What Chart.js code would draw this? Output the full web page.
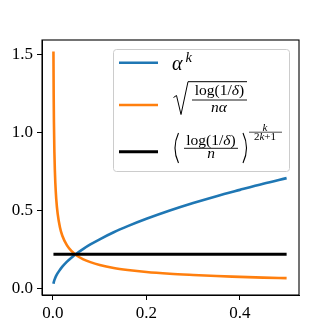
<!DOCTYPE html>
<html>
<head>
<meta charset="utf-8">
<script src="https://cdn.jsdelivr.net/npm/chart.js@4"></script>
<style>
    body { margin: 0; background: #fff; }
    canvas { display: block; }
</style>
</head>
<body>
<canvas id="chart" width="332" height="332"></canvas>
<script>
'use strict';

// values
var alphaValues = [0.001, 0.0015, 0.002, 0.003, 0.004, 0.005, 0.007, 0.01, 0.015, 0.02, 0.03, 0.04, 0.05,
    0.065, 0.08, 0.1, 0.13, 0.16, 0.2, 0.25, 0.3, 0.35, 0.4, 0.45, 0.5];
var alphaPowK = [0.032, 0.039, 0.045, 0.055, 0.063, 0.071, 0.084, 0.100, 0.122, 0.141, 0.173, 0.200, 0.224,
    0.255, 0.283, 0.316, 0.361, 0.400, 0.447, 0.500, 0.548, 0.592, 0.632, 0.671, 0.707];
var sqrtTerm = [1.517, 1.238, 1.072, 0.876, 0.758, 0.678, 0.573, 0.480, 0.392, 0.339, 0.277, 0.240, 0.214,
    0.188, 0.170, 0.152, 0.133, 0.120, 0.107, 0.096, 0.088, 0.081, 0.076, 0.071, 0.068];
var rateX = [0.001, 0.5];
var rateTerm = [0.22, 0.22];

var xTicks = [0.0, 0.2, 0.4];
var yTicks = [0.0, 0.5, 1.0, 1.5];

var SERIF = '"Liberation Serif", "DejaVu Serif", serif';

var points = function (xs, ys) {
    return xs.map(function (x, i) { return { x: x, y: ys[i] }; });
};

var font = function (size, italic) {
    return (italic ? 'italic ' : '') + size + 'px ' + SERIF;
};

// draws runs of [text, italic] centred on cx
var drawRuns = function (ctx, runs, cx, y, size) {
    var total = 0;
    runs.forEach(function (r) {
        ctx.font = font(size, r[1]);
        total += ctx.measureText(r[0]).width;
    });
    var x = cx - total / 2;
    runs.forEach(function (r) {
        ctx.font = font(size, r[1]);
        ctx.fillText(r[0], x, y);
        x += ctx.measureText(r[0]).width;
    });
};

var hline = function (ctx, x1, x2, y, w) {
    ctx.beginPath();
    ctx.moveTo(x1, y);
    ctx.lineTo(x2, y);
    ctx.lineWidth = w;
    ctx.stroke();
};

var frame = {
    id: 'frame',
    afterDraw: function (chart) {
        var a = chart.chartArea;
        var ctx = chart.ctx;
        ctx.save();
        ctx.strokeStyle = '#000';
        ctx.lineWidth = 1.1;
        ctx.strokeRect(a.left, a.top, a.right - a.left, a.bottom - a.top);
        ctx.restore();
    }
};

var mathLegend = {
    id: 'mathLegend',
    afterDraw: function (chart) {
        var ctx = chart.ctx;
        ctx.save();
        ctx.beginPath();
        ctx.roundRect(113.5, 49.5, 176, 122, 3);
        ctx.fillStyle = 'rgba(255,255,255,0.8)';
        ctx.fill();
        ctx.strokeStyle = '#cccccc';
        ctx.lineWidth = 1;
        ctx.stroke();

        var rows = [62.7, 105, 151.7];
        chart.data.datasets.forEach(function (ds, i) {
            ctx.strokeStyle = ds.borderColor;
            hline(ctx, 119, 158, rows[i], ds.borderWidth);
        });

        ctx.fillStyle = '#000';
        ctx.strokeStyle = '#000';
        ctx.textBaseline = 'alphabetic';
        ctx.textAlign = 'left';

        // alpha^k
        ctx.font = font(20, true);
        ctx.fillText('α', 172, 70);
        ctx.font = font(14.5, true);
        ctx.fillText('k', 185.5, 61.5);

        // sqrt(log(1/delta) / (n alpha))
        ctx.beginPath();
        ctx.moveTo(173.5, 97.5);
        ctx.lineTo(176.5, 95.5);
        ctx.lineTo(181, 114.5);
        ctx.lineTo(188, 81.7);
        ctx.lineTo(247, 81.7);
        ctx.lineWidth = 1;
        ctx.stroke();
        drawRuns(ctx, [['log(1/', false], ['δ', true], [')', false]], 219.5, 95, 15.5);
        hline(ctx, 192, 247, 100, 0.9);
        drawRuns(ctx, [['nα', true]], 219, 111.7, 15.5);

        // (log(1/delta) / n)^(k/(2k+1))
        ctx.lineWidth = 1.1;
        ctx.beginPath();
        ctx.moveTo(178.5, 133);
        ctx.quadraticCurveTo(171.5, 148, 178.5, 163);
        ctx.stroke();
        ctx.beginPath();
        ctx.moveTo(243, 133);
        ctx.quadraticCurveTo(250, 148, 243, 163);
        ctx.stroke();
        drawRuns(ctx, [['log(1/', false], ['δ', true], [')', false]], 211, 145, 15.5);
        hline(ctx, 184, 238, 148.3, 0.9);
        drawRuns(ctx, [['n', true]], 211, 157.5, 15.5);
        drawRuns(ctx, [['k', true]], 265, 130.5, 11);
        hline(ctx, 249, 282, 132.2, 0.7);
        drawRuns(ctx, [['2', false], ['k', true], ['+1', false]], 265, 140, 11);

        ctx.restore();
    }
};

var axisGrid = {
    display: true,
    drawOnChartArea: false,
    drawTicks: true,
    tickLength: 5,
    color: '#000',
    lineWidth: 1
};

var ctx = document.getElementById('chart').getContext('2d');
var chart = new Chart(ctx, {
    type: 'line',
    data: {
        datasets: [
            {
                label: 'alpha^k',
                data: points(alphaValues, alphaPowK),
                borderColor: '#1f77b4',
                borderWidth: 2.6,
                order: 2
            },
            {
                label: 'sqrt',
                data: points(alphaValues, sqrtTerm),
                borderColor: '#ff7f0e',
                borderWidth: 2.6,
                order: 1
            },
            {
                label: 'rate',
                data: points(rateX, rateTerm),
                borderColor: '#000000',
                borderWidth: 3,
                order: 0
            }
        ]
    },
    options: {
        responsive: false,
        animation: false,
        events: [],
        elements: {
            point: { radius: 0 },
            line: { cubicInterpolationMode: 'monotone', fill: false }
        },
        layout: { padding: { top: 40, right: 33, left: 0, bottom: 0 } },
        plugins: {
            legend: { display: false },
            tooltip: { enabled: false }
        },
        scales: {
            x: {
                type: 'linear',
                min: -0.0235,
                max: 0.5265,
                grid: axisGrid,
                border: { display: true, color: '#000', width: 1 },
                ticks: {
                    color: '#000',
                    font: { family: SERIF, size: 17 },
                    padding: 3,
                    maxRotation: 0,
                    callback: function (v) { return v.toFixed(1); }
                },
                afterBuildTicks: function (s) {
                    s.ticks = xTicks.map(function (v) { return { value: v }; });
                },
                afterFit: function (s) { s.height = 37; }
            },
            y: {
                type: 'linear',
                min: -0.04,
                max: 1.59,
                grid: axisGrid,
                border: { display: true, color: '#000', width: 1 },
                ticks: {
                    color: '#000',
                    font: { family: SERIF, size: 17 },
                    padding: 4,
                    callback: function (v) { return v.toFixed(1); }
                },
                afterBuildTicks: function (s) {
                    s.ticks = yTicks.map(function (v) { return { value: v }; });
                },
                afterFit: function (s) { s.width = 42; }
            }
        }
    },
    plugins: [frame, mathLegend]
});
</script>
</body>
</html>
